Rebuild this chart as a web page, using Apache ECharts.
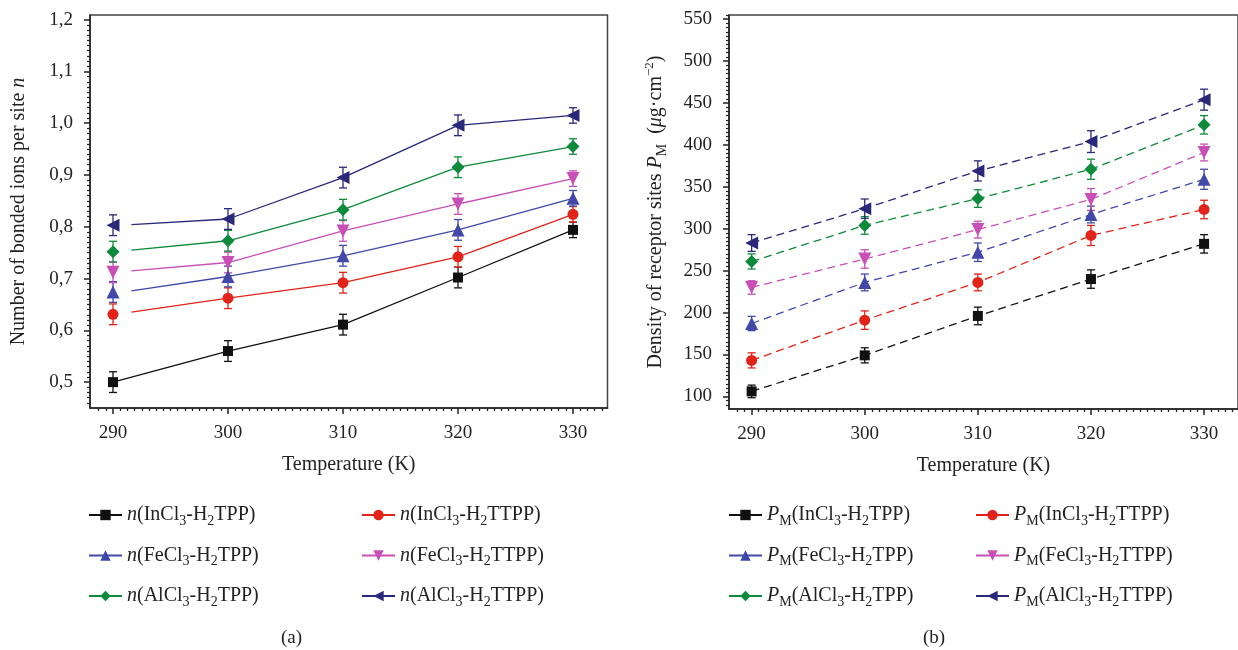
<!DOCTYPE html>
<html>
<head>
<meta charset="utf-8">
<script src="https://cdn.jsdelivr.net/npm/echarts@6/dist/echarts.min.js"></script>
<style>
  html, body { margin: 0; padding: 0; background: #fff; }
  #chart { width: 1238px; height: 650px; }
</style>
</head>
<body>
<div id="chart"></div>
<script>
// x values (K) and tick labels
const temps = [290, 300, 310, 320, 330];
const tempTicks = [290, 300, 310, 320, 330];
const nTicks = [0.5, 0.6, 0.7, 0.8, 0.9, 1.0, 1.1, 1.2];
const pTicks = [100, 150, 200, 250, 300, 350, 400, 450, 500, 550];

// (a) number of bonded ions per site n
const nInTPP = [0.500, 0.560, 0.611, 0.702, 0.794];
const nInTTPP = [0.631, 0.662, 0.692, 0.742, 0.824];
const nFeTPP = [0.674, 0.704, 0.744, 0.794, 0.855];
const nFeTTPP = [0.712, 0.731, 0.792, 0.844, 0.893];
const nAlTPP = [0.752, 0.773, 0.833, 0.915, 0.955];
const nAlTTPP = [0.803, 0.815, 0.895, 0.996, 1.015];
const nErr = [0.02, 0.02, 0.02, 0.02, 0.015];
// the fitted curves in (a) start slightly right of 290 (except InCl3-H2TPP)
const nLineStartT = [290, 291.6, 291.6, 291.6, 291.6, 291.6];
const nLineStartV = [0.500, 0.635, 0.676, 0.715, 0.755, 0.804];

// (b) density of receptor sites PM (ug/cm2)
const pInTPP = [106, 149, 196, 240, 282];
const pInTTPP = [143, 191, 236, 292, 323];
const pFeTPP = [187, 236, 272, 317, 359];
const pFeTTPP = [230, 264, 299, 335, 391];
const pAlTPP = [261, 304, 336, 371, 424];
const pAlTTPP = [283, 324, 369, 404, 454];
const pErrInTPP = [7.5, 9, 10.5, 11, 11];
const pErrInTTPP = [9, 11, 10, 12, 11];
const pErrFeTPP = [8.5, 10, 11, 10, 12];
const pErrFeTTPP = [8, 11, 10, 13, 10];
const pErrAlTPP = [9, 10.5, 10.5, 12, 11];
const pErrAlTTPP = [10, 11.5, 12, 13, 12.5];

const compounds = ['InCl3-H2TPP', 'InCl3-H2TTPP', 'FeCl3-H2TPP', 'FeCl3-H2TTPP', 'AlCl3-H2TPP', 'AlCl3-H2TTPP'];
const nData = [nInTPP, nInTTPP, nFeTPP, nFeTTPP, nAlTPP, nAlTTPP];
const pData = [pInTPP, pInTTPP, pFeTPP, pFeTTPP, pAlTPP, pAlTTPP];
const pErrs = [pErrInTPP, pErrInTTPP, pErrFeTPP, pErrFeTTPP, pErrAlTPP, pErrAlTTPP];

const colors = ['#111111', '#e2231a', '#4148a8', '#c84fb6', '#0e8a3c', '#2a2878'];
const symbols = ['rect', 'circle', 'triangle', 'triangle', 'diamond', 'triangle'];
const rotates = [0, 0, 0, 180, 0, 90];
const sizes = [10, 11, 13, 13, 13, 13];

const F = 'Liberation Serif';
const TXT = '#222';

// minor tick positions
const xMinor = [];
for (let t = 288.75; t < 333; t += 0.625) if (t % 10 !== 0) xMinor.push(t);
const nMinor = [];
for (let k = 46; k <= 120; k++) if (k % 10 !== 0) nMinor.push(k / 100);
const pMinor = [];
for (let k = 90; k <= 555; k += 5) if (k % 50 !== 0) pMinor.push(k);

const rich = {
  i: { fontFamily: F, fontStyle: 'italic', fontSize: 20, color: TXT, lineHeight: 26 },
  s: { fontFamily: F, fontSize: 14, color: TXT, verticalAlign: 'bottom', lineHeight: 14 },
  sup: { fontFamily: F, fontSize: 13, color: TXT, verticalAlign: 'top', lineHeight: 14 }
};
function richName(name) {
  return name.replace(/^PM/, '{i|P}{s|M}').replace(/^n\(/, '{i|n}(').replace(/(Cl|H)(\d)/g, '$1{s|$2}');
}

function xAxes(gridIndex) {
  return [{
    type: 'value', gridIndex: gridIndex, position: 'bottom', min: 288, max: 333,
    name: 'Temperature (K)', nameLocation: 'middle', nameGap: 47,
    nameTextStyle: { fontFamily: F, fontSize: 20, color: TXT },
    axisLine: { onZero: false, lineStyle: { color: '#222', width: 1.5 } },
    axisTick: { customValues: tempTicks, length: 6, lineStyle: { color: '#222', width: 1.5 } },
    axisLabel: { customValues: tempTicks, margin: 16, fontFamily: F, fontSize: 19, color: TXT },
    splitLine: { show: false }
  }, {
    type: 'value', gridIndex: gridIndex, position: 'bottom', min: 288, max: 333,
    axisLine: { show: false, onZero: false },
    axisTick: { customValues: xMinor, length: 3, lineStyle: { color: '#222', width: 1.3 } },
    axisLabel: { show: false },
    splitLine: { show: false }
  }];
}

function yAxes(gridIndex, min, max, ticks, minor, name, gap, fmt) {
  return [{
    type: 'value', gridIndex: gridIndex, position: 'left', min: min, max: max,
    name: name, nameLocation: 'middle', nameGap: gap, nameRotate: 90,
    nameTextStyle: { fontFamily: F, fontSize: 20, color: TXT, lineHeight: 26, rich: rich },
    axisLine: { onZero: false, lineStyle: { color: '#222', width: 1.5 } },
    axisTick: { customValues: ticks, length: 6, lineStyle: { color: '#222', width: 1.5 } },
    axisLabel: { customValues: ticks, margin: 17, fontFamily: F, fontSize: 19, color: TXT, formatter: fmt },
    splitLine: { show: false }
  }, {
    type: 'value', gridIndex: gridIndex, position: 'left', min: min, max: max,
    axisLine: { show: false, onZero: false },
    axisTick: { customValues: minor, length: 3, lineStyle: { color: '#222', width: 1.2 } },
    axisLabel: { show: false },
    splitLine: { show: false }
  }];
}

function errorBars(name, gridIdx, color, rows) {
  return {
    type: 'custom', name: name, xAxisIndex: gridIdx * 2, yAxisIndex: gridIdx * 2, z: 1,
    data: rows, encode: { x: 0, y: [1, 2] }, silent: true,
    renderItem: function (params, api) {
      const lo = api.coord([api.value(0), api.value(1)]);
      const hi = api.coord([api.value(0), api.value(2)]);
      const st = { stroke: color, lineWidth: 1.3 };
      return {
        type: 'group', children: [
          { type: 'line', shape: { x1: lo[0], y1: lo[1], x2: hi[0], y2: hi[1] }, style: st },
          { type: 'line', shape: { x1: lo[0] - 4, y1: lo[1], x2: lo[0] + 4, y2: lo[1] }, style: st },
          { type: 'line', shape: { x1: hi[0] - 4, y1: hi[1], x2: hi[0] + 4, y2: hi[1] }, style: st }
        ]
      };
    }
  };
}

const series = [];
const namesA = compounds.map(c => 'n(' + c + ')');
const namesB = compounds.map(c => 'PM(' + c + ')');

compounds.forEach(function (c, i) {
  const vals = nData[i];
  const linePts = [[nLineStartT[i], nLineStartV[i]]].concat(temps.slice(1).map((t, j) => [t, vals[j + 1]]));
  series.push({
    type: 'line', name: namesA[i], xAxisIndex: 0, yAxisIndex: 0, z: 2,
    data: linePts, showSymbol: false, symbol: symbols[i], symbolRotate: rotates[i], symbolSize: sizes[i],
    color: colors[i], lineStyle: { color: colors[i], width: 1.3 }, silent: true
  });
  series.push({
    type: 'scatter', name: namesA[i], xAxisIndex: 0, yAxisIndex: 0, z: 3,
    data: temps.map((t, j) => [t, vals[j]]),
    symbol: symbols[i], symbolRotate: rotates[i], symbolSize: sizes[i],
    itemStyle: { color: colors[i], opacity: 1 }, silent: true
  });
  series.push(errorBars(namesA[i], 0, colors[i], temps.map((t, j) => [t, vals[j] - nErr[j], vals[j] + nErr[j]])));
});

compounds.forEach(function (c, i) {
  const vals = pData[i];
  const err = pErrs[i];
  series.push({
    type: 'line', name: namesB[i], xAxisIndex: 2, yAxisIndex: 2, z: 2,
    data: temps.map((t, j) => [t, vals[j]]),
    symbol: symbols[i], symbolRotate: rotates[i], symbolSize: sizes[i],
    itemStyle: { color: colors[i], opacity: 1 },
    lineStyle: { color: colors[i], width: 1.3, type: [8, 5] }, silent: true
  });
  series.push(errorBars(namesB[i], 1, colors[i], temps.map((t, j) => [t, vals[j] - err[j], vals[j] + err[j]])));
});

function legend(left, names) {
  return {
    orient: 'vertical', left: left, top: 502, padding: 0, itemGap: 14.5,
    itemWidth: 33, itemHeight: 13, selectedMode: false,
    data: names,
    lineStyle: { type: 'solid' },
    textStyle: { fontFamily: F, fontSize: 20, color: TXT, lineHeight: 26, rich: rich },
    formatter: richName
  };
}

const option = {
  animation: false,
  backgroundColor: '#fff',
  title: [
    { text: '(a)', left: 281, top: 629, padding: 0, textStyle: { fontFamily: F, fontSize: 19, fontWeight: 'normal', color: TXT } },
    { text: '(b)', left: 923, top: 629, padding: 0, textStyle: { fontFamily: F, fontSize: 19, fontWeight: 'normal', color: TXT } }
  ],
  grid: [
    { left: 90, top: 15, width: 517.5, height: 393, show: true, borderColor: '#444', borderWidth: 1.5 },
    { left: 729, top: 15, width: 516, height: 394, show: true, borderColor: '#444', borderWidth: 1.5 }
  ],
  xAxis: xAxes(0).concat(xAxes(1)),
  yAxis: yAxes(0, 0.45, 1.209, nTicks, nMinor, 'Number of bonded ions per site {i|n}', 58,
               v => v.toFixed(1).replace('.', ','))
    .concat(yAxes(1, 85, 555, pTicks, pMinor, 'Density of receptor sites {i|P}{s|M}  ({i|μ}g·cm{sup|−2})', 60,
               v => String(v))),
  legend: [
    legend(88, [namesA[0], namesA[2], namesA[4]]),
    legend(361, [namesA[1], namesA[3], namesA[5]]),
    legend(728, [namesB[0], namesB[2], namesB[4]]),
    legend(975, [namesB[1], namesB[3], namesB[5]])
  ],
  series: series
};

const chart = echarts.init(document.getElementById('chart'));
chart.setOption(option);
window.addEventListener('resize', () => chart.resize());
</script>
</body>
</html>
